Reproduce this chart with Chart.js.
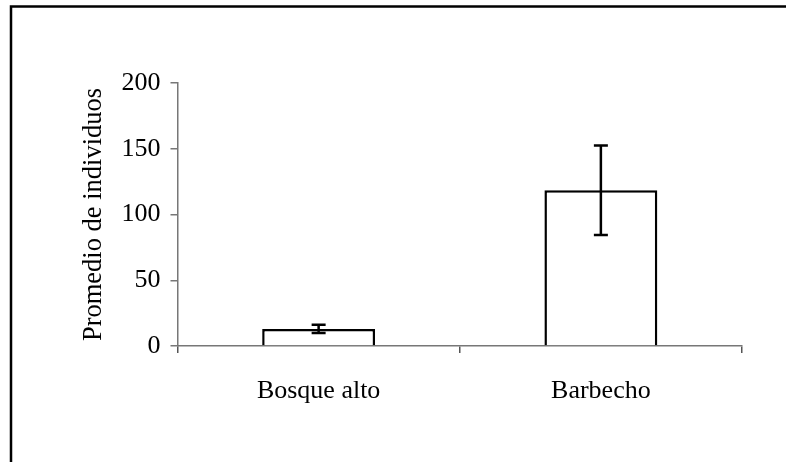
<!DOCTYPE html>
<html>
<head>
<meta charset="utf-8">
<script src="https://cdn.jsdelivr.net/npm/chart.js@4.4.1/dist/chart.umd.min.js"></script>
<style>
  html, body { margin: 0; padding: 0; background: #fff; }
  #wrap { width: 786px; height: 462px; }
</style>
</head>
<body>
<div id="wrap"><canvas id="promedioChart" width="786" height="462"></canvas></div>
<script>
// datos
const categorias = ['Bosque alto', 'Barbecho'];
const promedios = [13, 118.5];
const errores = [3.2, 34];
const marcasY = [0, 50, 100, 150, 200];

// barras de error y marco exterior
const extras = {
    id: 'extras',
    beforeDraw(chart) {
        const c = chart.ctx;
        c.save();
        c.strokeStyle = '#000';
        c.lineWidth = 2.5;
        c.strokeRect(11, 6.5, 820, 520);
        c.restore();
    },
    afterDatasetsDraw(chart) {
        const c = chart.ctx;
        const meta = chart.getDatasetMeta(0);
        const y = chart.scales.y;
        c.save();
        c.strokeStyle = '#000';
        c.lineWidth = 2.5;
        meta.data.forEach((bar, i) => {
            const x = bar.x;
            const top = y.getPixelForValue(promedios[i] + errores[i]);
            const bot = y.getPixelForValue(promedios[i] - errores[i]);
            c.beginPath();
            c.moveTo(x, top); c.lineTo(x, bot);
            c.moveTo(x - 7, top); c.lineTo(x + 7, top);
            c.moveTo(x - 7, bot); c.lineTo(x + 7, bot);
            c.stroke();
        });
        c.restore();
    }
};

const ctx = document.getElementById('promedioChart').getContext('2d');
const fuente = { family: '"Liberation Serif", "Times New Roman", serif', size: 26 };

new Chart(ctx, {
    type: 'bar',
    data: {
        labels: categorias,
        datasets: [{
            data: promedios,
            backgroundColor: '#fff',
            borderColor: '#000',
            borderWidth: 2.5,
            barPercentage: 0.4,
            categoryPercentage: 1
        }]
    },
    options: {
        responsive: false,
        animation: false,
        layout: { padding: { left: 78, right: 44, top: 83, bottom: 0 } },
        plugins: { legend: { display: false }, tooltip: { enabled: false } },
        scales: {
            x: {
                grid: { drawOnChartArea: false, tickLength: 7, color: '#555', lineWidth: 1.5 },
                border: { color: '#777', width: 1.5 },
                ticks: { color: '#000', font: fuente, padding: 23 },
                afterFit: s => { s.height = 116; }
            },
            y: {
                min: 0,
                max: 200,
                afterBuildTicks: s => { s.ticks = marcasY.map(v => ({ value: v })); },
                grid: { drawOnChartArea: false, tickLength: 7, color: '#777', lineWidth: 1.5 },
                border: { color: '#777', width: 1.5 },
                ticks: { color: '#000', font: fuente, padding: 10 },
                title: {
                    display: true,
                    text: 'Promedio de individuos',
                    color: '#000',
                    font: { family: fuente.family, size: 26.5 },
                    padding: { top: 0, bottom: 0 }
                },
                afterFit: s => { s.width = 99.5; }
            }
        }
    },
    plugins: [extras]
});
</script>
</body>
</html>
